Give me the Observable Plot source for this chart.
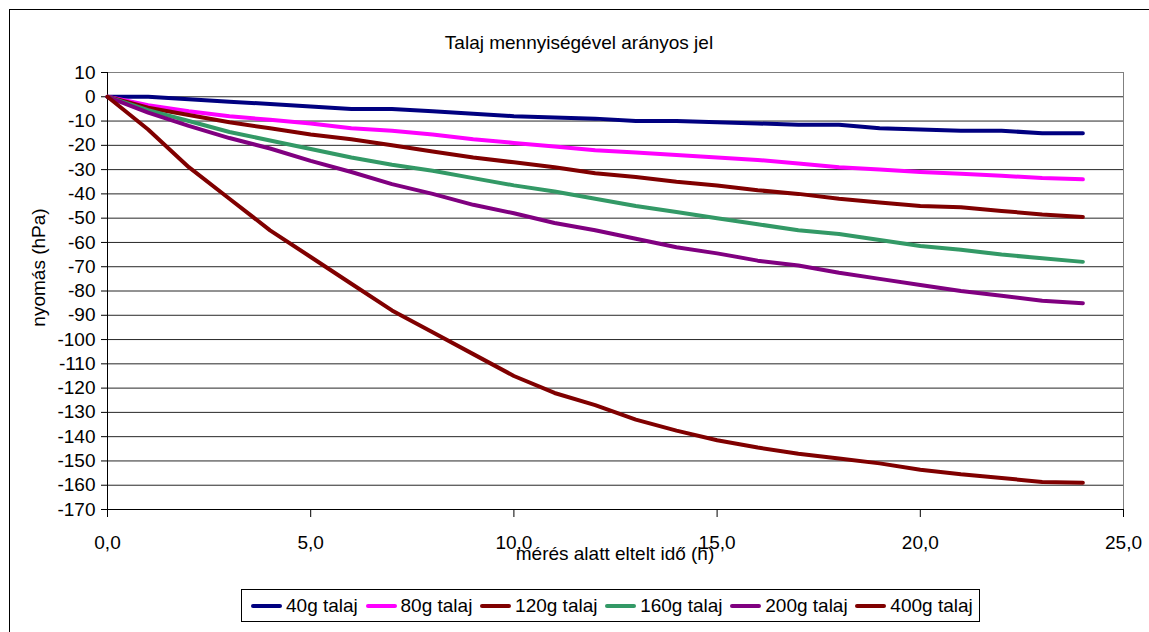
<!DOCTYPE html>
<html>
<head>
<meta charset="utf-8">
<script src="https://cdn.jsdelivr.net/npm/d3@7"></script>
<script src="https://cdn.jsdelivr.net/npm/@observablehq/plot@0.6"></script>
<style>
  body { margin: 0; background: #fff; }
  #chart { position: relative; width: 1149px; height: 632px; overflow: hidden;
           font-family: "Liberation Sans", Arial, sans-serif; color: #000; background: #fff; }
  #frame { position: absolute; left: 9px; top: 9px; width: 1170px; height: 660px;
           border: 1px solid #000; box-sizing: border-box; }
  #plot { position: absolute; left: 0; top: 0; }
  .txt { position: absolute; font-size: 19px; line-height: 19px; white-space: nowrap; }
  #title { left: 9px; width: 1140px; top: 33px; text-align: center; }
  #xlabel { left: 107px; width: 1016px; top: 544px; text-align: center; }
  #ylabel { left: -112px; width: 300px; top: 258px; text-align: center; transform: rotate(-90deg); }
  #legend { position: absolute; left: 241px; top: 589px; width: 739px; height: 33px;
            border: 1px solid #000; box-sizing: border-box; display: flex; align-items: center;
            padding-left: 9px; font-size: 19px; white-space: nowrap; }
  .item { display: flex; align-items: center; margin-right: 7.7px; }
  .item svg { margin-right: 4px; }
</style>
</head>
<body>
<div id="chart">
  <div id="frame"></div>
  <div id="plot"></div>
  <div id="title" class="txt">Talaj mennyiségével arányos jel</div>
  <div id="xlabel" class="txt">mérés alatt eltelt idő (h)</div>
  <div id="ylabel" class="txt">nyomás (hPa)</div>
  <div id="legend"></div>
</div>
<script>
// Elapsed measurement time (h)
const hours = [0, 1, 2, 3, 4, 5, 6, 7, 8, 9, 10, 11, 12, 13, 14, 15, 16, 17, 18, 19, 20, 21, 22, 23, 24];

// Pressure (hPa) per soil quantity, hourly readings
const talaj40  = [0, 0, -1, -2, -3, -4, -5, -5, -6, -7, -8, -8.5, -9, -10, -10, -10.5, -11, -11.5, -11.5, -13, -13.5, -14, -14, -15, -15];
const talaj80  = [0, -3.5, -6, -8, -9.5, -11, -13, -14, -15.5, -17.5, -19, -20.5, -22, -23, -24, -25, -26, -27.5, -29, -30, -31, -31.7, -32.5, -33.5, -34];
const talaj120 = [0, -4.5, -7.5, -10.5, -13, -15.5, -17.5, -20, -22.5, -25, -27, -29, -31.5, -33, -35, -36.5, -38.5, -40, -42, -43.5, -45, -45.5, -47, -48.5, -49.5];
const talaj160 = [0, -5.5, -10, -14.5, -18, -21.5, -25, -28, -30.5, -33.5, -36.5, -39, -42, -45, -47.5, -50, -52.5, -55, -56.5, -59, -61.5, -63, -65, -66.5, -68];
const talaj200 = [0, -6.5, -12, -17, -21.3, -26.4, -31, -36, -40, -44.5, -48, -52, -55, -58.5, -62, -64.5, -67.5, -69.5, -72.5, -75, -77.5, -80, -82, -84, -85];
const talaj400 = [0, -13.5, -29, -42, -55, -66, -77, -88, -97, -106, -115, -122, -127, -133, -137.5, -141.5, -144.5, -147, -149, -151, -153.6, -155.5, -157, -158.7, -159];

const seriesNames  = ["40g talaj", "80g talaj", "120g talaj", "160g talaj", "200g talaj", "400g talaj"];
const seriesValues = [talaj40, talaj80, talaj120, talaj160, talaj200, talaj400];
const seriesColors = ["#000080", "#FF00FF", "#800000", "#339966", "#800080", "#800000"];

const yTicks = [10, 0, -10, -20, -30, -40, -50, -60, -70, -80, -90, -100, -110, -120, -130, -140, -150, -160, -170];
const xTicks = [0, 5, 10, 15, 20, 25];

const rows = seriesNames.flatMap((name, i) =>
  hours.map((h, j) => ({series: name, h, p: seriesValues[i][j]})));

const chart = Plot.plot({
  width: 1149,
  height: 632,
  marginLeft: 107,
  marginRight: 26,
  marginTop: 72,
  marginBottom: 123,
  x: {domain: [0, 25]},
  y: {domain: [-170, 10]},
  color: {domain: seriesNames, range: seriesColors},
  style: {fontFamily: "'Liberation Sans', Arial, sans-serif", fontSize: "19px", color: "#000", background: "transparent", overflow: "visible"},
  marks: [
    Plot.gridY(yTicks.filter(v => v < 10 && v > -170), {stroke: "#000", strokeOpacity: 0.85, strokeWidth: 1}),
    Plot.frame({stroke: "#808080"}),
    Plot.ruleX([0], {stroke: "#000"}),
    Plot.ruleY([-170], {stroke: "#000"}),
    Plot.axisY(yTicks, {tickSize: 6, tickPadding: 6, tickFormat: d => String(d), label: null, stroke: "#000", fill: "#000"}),
    Plot.axisX(xTicks, {tickSize: 8, tickPadding: 18, tickFormat: d => d.toFixed(1).replace(".", ","), label: null, stroke: "#000", fill: "#000"}),
    Plot.line(rows, {x: "h", y: "p", z: "series", stroke: "series", strokeWidth: 4, strokeLinejoin: "round", strokeLinecap: "round"})
  ]
});
document.getElementById("plot").appendChild(chart);

// Legend row below the plot
const legend = d3.select("#legend");
seriesNames.forEach((name, i) => {
  const item = legend.append("div").attr("class", "item");
  const sw = item.append("svg").attr("width", 31).attr("height", 8);
  sw.append("line").attr("x1", 2).attr("x2", 29).attr("y1", 4).attr("y2", 4)
    .attr("stroke", seriesColors[i]).attr("stroke-width", 4).attr("stroke-linecap", "round");
  item.append("span").text(name);
});
</script>
</body>
</html>
